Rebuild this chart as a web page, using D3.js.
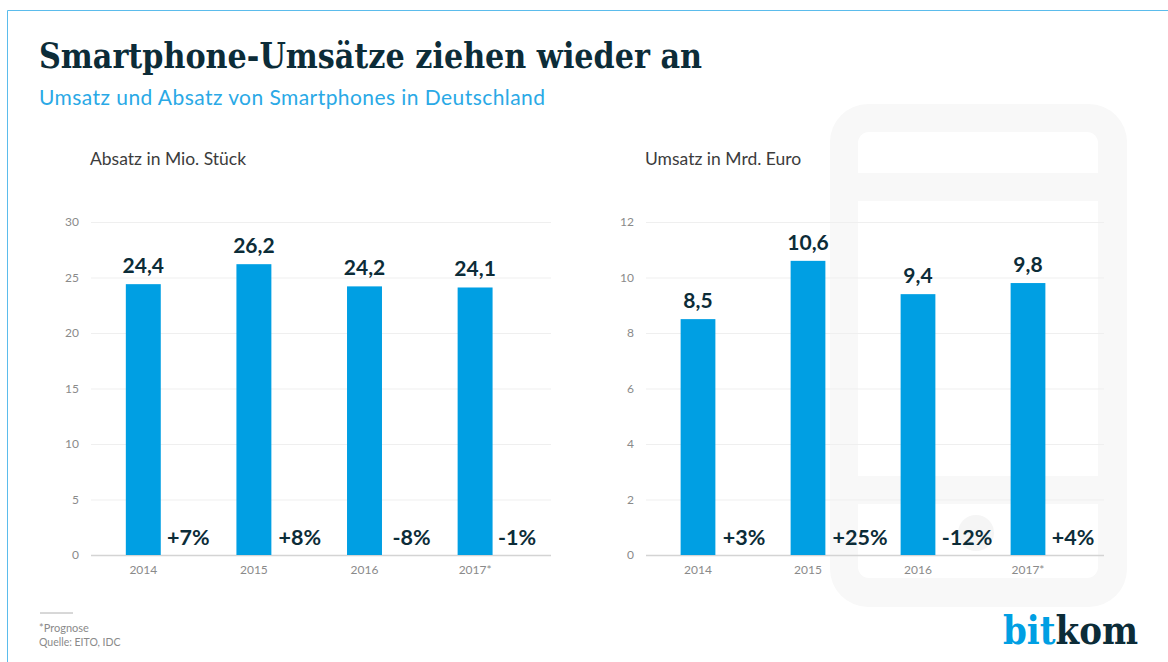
<!DOCTYPE html>
<html><head><meta charset="utf-8">
<script src="https://cdn.jsdelivr.net/npm/d3@7"></script>
<style>html,body{margin:0;padding:0;background:#fff}svg{display:block}
text{font-family:Lato,sans-serif}
.slab{font-family:"DejaVu Serif Condensed","DejaVu Serif",serif;font-weight:700}
</style></head><body>
<svg id="c" width="1168" height="662"></svg>
<script>
const years = ["2014","2015","2016","2017*"];
const absatz = [24.4,26.2,24.2,24.1];
const umsatz = [8.5,10.6,9.4,9.8];
const absatzChange = ["+7%","+8%","-8%","-1%"];
const umsatzChange = ["+3%","+25%","-12%","+4%"];
const absatzTicks = [0,5,10,15,20,25,30];
const umsatzTicks = [0,2,4,6,8,10,12];

const svg = d3.select("#c");
const BLUE="#009fe3", DARK="#0c2c38";
const fmt = d3.formatLocale({decimal:",",thousands:".",grouping:[3],currency:["","€"]}).format(".1f");

// frame
svg.append("path").attr("d","M7.5 662V10.5H1168").attr("fill","none").attr("stroke","#5bbcec").attr("stroke-width",1);

// background phone
const bg=svg.append("g");
bg.append("rect").attr("x",830).attr("y",104).attr("width",297).attr("height",503).attr("rx",38).attr("fill","#f8f8f8");
bg.append("path").attr("d","M858 173V143a11 11 0 0 1 11-11H1087a11 11 0 0 1 11 11V173Z").attr("fill","#fff");
bg.append("rect").attr("x",858).attr("y",201).attr("width",240).attr("height",275).attr("fill","#fff");
bg.append("path").attr("d","M858 504H1098V567a11 11 0 0 1-11 11H869a11 11 0 0 1-11-11Z").attr("fill","#fff");
bg.append("circle").attr("cx",976).attr("cy",533).attr("r",18).attr("fill","#f5f5f5");

// titles
svg.append("text").attr("class","slab").attr("x",39).attr("y",68).attr("font-size",36).attr("fill",DARK)
  .attr("textLength",663).attr("lengthAdjust","spacingAndGlyphs").text("Smartphone-Umsätze ziehen wieder an");
svg.append("text").attr("x",39).attr("y",105).attr("font-size",21).attr("fill","#2aa9e6")
  .attr("textLength",506).text("Umsatz und Absatz von Smartphones in Deutschland");

function panel(o){
  const y=d3.scaleLinear().domain([0,d3.max(o.ticks)]).range([555,222]);
  const x=d3.scaleBand().domain(years).range([o.bandStart,o.bandStart+o.bandSpan]).paddingInner(0.684).paddingOuter(0.342);
  const g=svg.append("g");
  g.append("text").attr("x",o.left-1).attr("y",165).attr("font-size",17.5).attr("fill","#3c3c3c").text(o.title);

  const ya=g.append("g").attr("transform",`translate(${o.left},0)`)
    .call(d3.axisLeft(y).tickValues(o.ticks).tickSize(-o.width).tickPadding(12).tickFormat(d3.format("d")));
  ya.select(".domain").remove();
  ya.selectAll(".tick line").attr("stroke",d=>d===0?"#d4d4d4":"#efefef").attr("stroke-width",d=>d===0?1.5:1);
  ya.selectAll(".tick text").attr("font-size",12).attr("fill","#8a8a8a").style("font-family","Lato,sans-serif");

  const xa=g.append("g").attr("transform","translate(0,555)")
    .call(d3.axisBottom(x).tickSize(0).tickPadding(10));
  xa.select(".domain").remove();
  xa.selectAll(".tick text").attr("font-size",12).attr("fill","#8a8a8a").style("font-family","Lato,sans-serif");

  g.selectAll("rect.bar").data(o.values).join("rect").attr("class","bar")
    .attr("x",(d,i)=>x(years[i])).attr("width",x.bandwidth())
    .attr("y",d=>y(d)).attr("height",d=>y(0)-y(d)).attr("fill",BLUE);
  g.selectAll("text.val").data(o.values).join("text").attr("class","val")
    .attr("x",(d,i)=>x(years[i])+x.bandwidth()/2).attr("y",d=>y(d)-11)
    .attr("text-anchor","middle").attr("font-size",21).attr("font-weight",700).attr("fill",DARK)
    .text(d=>fmt(d));
  g.selectAll("text.chg").data(o.changes).join("text").attr("class","chg")
    .attr("x",(d,i)=>x(years[i])+x.bandwidth()/2+o.chgOffset[i]).attr("y",545)
    .attr("text-anchor","middle").attr("font-size",21.5).attr("font-weight",700).attr("fill",DARK)
    .text(d=>d);
}
panel({title:"Absatz in Mio. Stück",left:91,width:460,bandStart:88,bandSpan:442.4,values:absatz,changes:absatzChange,ticks:absatzTicks,chgOffset:[45,46,47,42]});
panel({title:"Umsatz in Mrd. Euro",left:646,width:458,bandStart:643,bandSpan:440,values:umsatz,changes:umsatzChange,ticks:umsatzTicks,chgOffset:[46,52,49,45]});

// footer
svg.append("line").attr("x1",40).attr("x2",73).attr("y1",613).attr("y2",613).attr("stroke","#b0b0b0");
svg.append("text").attr("x",39).attr("y",632).attr("font-size",11).attr("fill","#8a8a8a").text("*Prognose");
svg.append("text").attr("x",39).attr("y",646).attr("font-size",10.5).attr("fill","#8a8a8a").text("Quelle: EITO, IDC");

// logo
const logo=svg.append("text").attr("class","slab").attr("x",1003).attr("y",644).attr("font-size",40)
  .attr("textLength",135).attr("lengthAdjust","spacingAndGlyphs");
logo.append("tspan").attr("fill",BLUE).text("bit");
logo.append("tspan").attr("fill",DARK).text("kom");
</script></body></html>
